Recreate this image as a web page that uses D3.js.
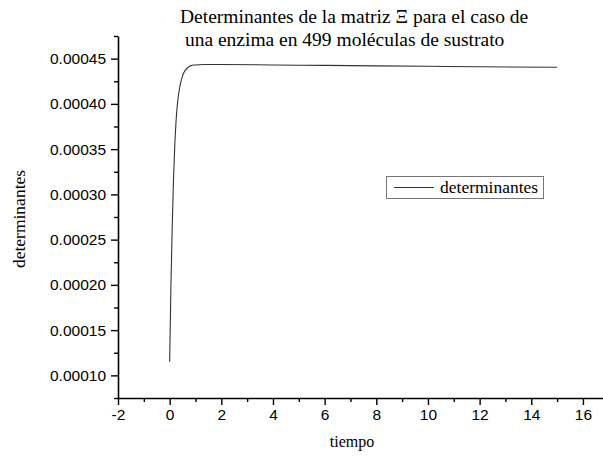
<!DOCTYPE html>
<html>
<head>
<meta charset="utf-8">
<script src="https://cdn.jsdelivr.net/npm/d3@7"></script>
<style>
  body { margin: 0; background: #fff; }
  svg { display: block; }
</style>
</head>
<body>
<svg id="chart" width="603" height="457"></svg>
<script>
// Time samples and the determinant of the Ξ matrix at each of them
const tiempo = [0, 0.05, 0.1, 0.15, 0.2, 0.25, 0.3, 0.4, 0.5, 0.6, 0.7, 0.8, 1.0, 1.3, 2, 4, 6, 8, 10, 12, 15];
const determinantes = [0.000115, 0.000200, 0.000265, 0.000318, 0.000355, 0.000382, 0.000400, 0.000420,
  0.000431, 0.000437, 0.000440, 0.000442, 0.000443, 0.0004435, 0.0004435, 0.000443, 0.0004425,
  0.000442, 0.0004415, 0.000441, 0.0004405];

const xTicks = [-2, 0, 2, 4, 6, 8, 10, 12, 14, 16];
const yTicks = [0.00010, 0.00015, 0.00020, 0.00025, 0.00030, 0.00035, 0.00040, 0.00045];
const titleLines = ["Determinantes de la matriz \u039E para el caso de", " una enzima en 499 moléculas de sustrato"];
const xLabel = "tiempo";
const yLabel = "determinantes";
const legendLabel = "determinantes";

const svg = d3.select("#chart");
const serif = "'Liberation Serif', 'Times New Roman', serif";
const sans = "'Liberation Sans', Arial, sans-serif";

const x = d3.scaleLinear().domain([-2, 16.8]).range([118, 603.6]);
const y = d3.scaleLinear().domain([0.000075, 0.000475]).range([398, 36]);

// Minor ticks
const xMinor = d3.range(-2, 17, 1).filter(v => !xTicks.includes(v));
const yMinor = d3.range(0, 9).map(i => 0.000075 + i * 0.00005);

const xAxisG = svg.append("g").attr("transform", `translate(0,${y.range()[0]})`);
xAxisG.call(d3.axisBottom(x).tickValues(xTicks).tickFormat(d => String(d)).tickSize(7).tickPadding(4).tickSizeOuter(0));
xAxisG.append("g").call(d3.axisBottom(x).tickValues(xMinor).tickSize(4).tickFormat("").tickSizeOuter(0))
  .select(".domain").remove();

const yAxisG = svg.append("g").attr("transform", `translate(${x.range()[0]},0)`);
yAxisG.call(d3.axisLeft(y).tickValues(yTicks).tickFormat(d3.format(".5f")).tickSize(7).tickPadding(5).tickSizeOuter(0));
yAxisG.append("g").call(d3.axisLeft(y).tickValues(yMinor).tickSize(4).tickFormat("").tickSizeOuter(0))
  .select(".domain").remove();

svg.selectAll(".domain").attr("stroke", "#000").attr("stroke-width", 1.6);
svg.selectAll(".tick line").attr("stroke", "#000").attr("stroke-width", 1.4);
svg.selectAll(".tick text").attr("font-family", sans).attr("font-size", 15.5).attr("fill", "#000");

// Curve
const line = d3.line()
  .x((d, i) => x(tiempo[i]))
  .y(d => y(d))
  .curve(d3.curveMonotoneX);

svg.append("path")
  .datum(determinantes)
  .attr("d", line)
  .attr("fill", "none")
  .attr("stroke", "#333")
  .attr("stroke-width", 1.1);

// Title
svg.append("text")
  .attr("font-family", serif).attr("font-size", 19.5).attr("fill", "#000")
  .selectAll("tspan").data(titleLines).join("tspan")
  .attr("x", 180).attr("y", (d, i) => 23 + i * 23)
  .attr("xml:space", "preserve")
  .style("white-space", "pre")
  .text(d => d);

// Axis titles
svg.append("text")
  .attr("x", 352).attr("y", 447)
  .attr("text-anchor", "middle")
  .attr("font-family", serif).attr("font-size", 16)
  .text(xLabel);

svg.append("text")
  .attr("transform", "translate(25,219) rotate(-90)")
  .attr("text-anchor", "middle")
  .attr("font-family", serif).attr("font-size", 17.5)
  .text(yLabel);

// Legend
const lg = svg.append("g");
lg.append("rect")
  .attr("x", 386.5).attr("y", 176.5).attr("width", 157).attr("height", 22)
  .attr("fill", "#fff").attr("stroke", "#777").attr("stroke-width", 1);
lg.append("line")
  .attr("x1", 394).attr("x2", 434).attr("y1", 187.5).attr("y2", 187.5)
  .attr("stroke", "#333").attr("stroke-width", 1.1);
lg.append("text")
  .attr("x", 440).attr("y", 193)
  .attr("font-family", serif).attr("font-size", 17.5)
  .text(legendLabel);
</script>
</body>
</html>
